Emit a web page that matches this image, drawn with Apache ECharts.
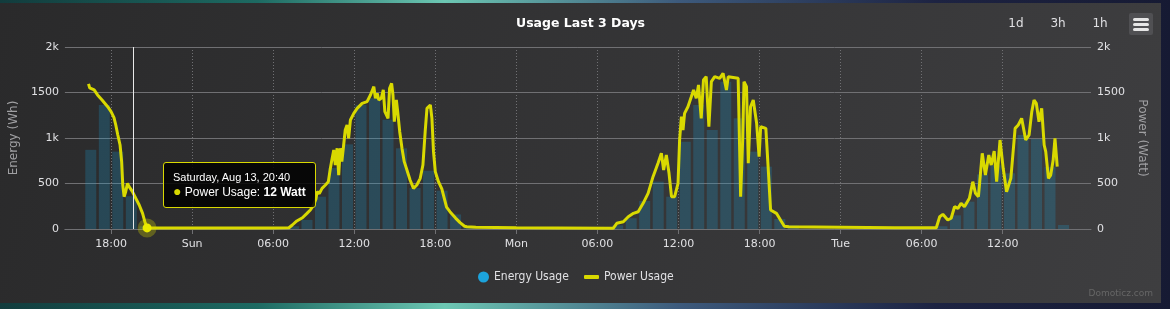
<!DOCTYPE html>
<html><head><meta charset="utf-8">
<script src="https://cdn.jsdelivr.net/npm/echarts@6/dist/echarts.min.js"></script>
<style>
html,body{margin:0;padding:0;width:1170px;height:309px;overflow:hidden;
background:linear-gradient(90deg,#123c3d 0%,#1d6a62 22%,#6cc7b3 38%,#3d5a7c 58%,#1d2342 80%,#161a33 100%);}
#chart{position:absolute;left:0;top:3px;width:1161px;height:300px;}
</style></head><body><div id="chart"></div>
<script>
// ---------------- data ----------------
const xMin = '2022-08-13 14:35';
const xMax = '2022-08-16 18:32';
const tickTimes = ['2022-08-13 18:00','2022-08-14 00:00','2022-08-14 06:00','2022-08-14 12:00','2022-08-14 18:00',
  '2022-08-15 00:00','2022-08-15 06:00','2022-08-15 12:00','2022-08-15 18:00','2022-08-16 00:00','2022-08-16 06:00','2022-08-16 12:00'];
const tickLabels = ['18:00','Sun','06:00','12:00','18:00','Mon','06:00','12:00','18:00','Tue','06:00','12:00'];
const yTickLabels = ['0','500','1k','1500','2k'];

const energyTimes = [
  '2022-08-13 16:30','2022-08-13 17:30','2022-08-13 18:30','2022-08-13 19:30','2022-08-13 20:30',
  '2022-08-14 07:30','2022-08-14 08:30','2022-08-14 09:30','2022-08-14 10:30','2022-08-14 11:30','2022-08-14 12:30','2022-08-14 13:30',
  '2022-08-14 14:30','2022-08-14 15:30','2022-08-14 16:30','2022-08-14 17:30','2022-08-14 18:30','2022-08-14 19:30','2022-08-14 20:30',
  '2022-08-15 07:30','2022-08-15 08:30','2022-08-15 09:30','2022-08-15 10:30','2022-08-15 11:30','2022-08-15 12:30','2022-08-15 13:30',
  '2022-08-15 14:30','2022-08-15 15:30','2022-08-15 16:30','2022-08-15 17:30','2022-08-15 18:30','2022-08-15 19:30','2022-08-15 20:30',
  '2022-08-16 07:30','2022-08-16 08:30','2022-08-16 09:30','2022-08-16 10:30','2022-08-16 11:30','2022-08-16 12:30','2022-08-16 13:30',
  '2022-08-16 14:30','2022-08-16 15:30','2022-08-16 16:30'];
const energyValues = [
  870,1363,850,360,30,
  30,100,355,670,930,1363,1436,
  1200,887,450,640,421,160,20,
  40,118,308,520,355,960,1363,
  1088,1619,1216,850,685,110,40,
  30,150,300,600,700,612,1033,
  990,680,44];

const powerTimes = [
  // Sat 13
  '2022-08-13 16:20','2022-08-13 16:25','2022-08-13 16:30','2022-08-13 16:45','2022-08-13 17:00','2022-08-13 17:20','2022-08-13 17:45',
  '2022-08-13 18:00','2022-08-13 18:13','2022-08-13 18:21','2022-08-13 18:30','2022-08-13 18:40','2022-08-13 18:47','2022-08-13 18:52',
  '2022-08-13 18:58','2022-08-13 19:05','2022-08-13 19:13','2022-08-13 19:20','2022-08-13 19:35','2022-08-13 19:50','2022-08-13 20:05',
  '2022-08-13 20:20','2022-08-13 20:30','2022-08-13 20:40','2022-08-13 21:00','2022-08-13 22:00','2022-08-13 23:00',
  // Sun 14
  '2022-08-14 00:00','2022-08-14 03:00','2022-08-14 06:00','2022-08-14 07:10','2022-08-14 07:25','2022-08-14 07:45','2022-08-14 08:10',
  '2022-08-14 08:30','2022-08-14 08:45','2022-08-14 09:00','2022-08-14 09:10','2022-08-14 09:15','2022-08-14 09:25','2022-08-14 09:37',
  '2022-08-14 09:52','2022-08-14 10:05','2022-08-14 10:14','2022-08-14 10:22','2022-08-14 10:29','2022-08-14 10:36','2022-08-14 10:44',
  '2022-08-14 10:51','2022-08-14 10:58','2022-08-14 11:05','2022-08-14 11:13','2022-08-14 11:20','2022-08-14 11:28','2022-08-14 11:35',
  '2022-08-14 11:43','2022-08-14 11:58','2022-08-14 12:13','2022-08-14 12:35','2022-08-14 12:57','2022-08-14 13:12','2022-08-14 13:27',
  '2022-08-14 13:34','2022-08-14 13:42','2022-08-14 13:49','2022-08-14 14:00','2022-08-14 14:09','2022-08-14 14:16','2022-08-14 14:30',
  '2022-08-14 14:37','2022-08-14 14:46','2022-08-14 14:52','2022-08-14 14:58','2022-08-14 15:07','2022-08-14 15:13','2022-08-14 15:22',
  '2022-08-14 15:32','2022-08-14 15:42','2022-08-14 15:54','2022-08-14 16:08','2022-08-14 16:23','2022-08-14 16:38','2022-08-14 16:53',
  '2022-08-14 17:05','2022-08-14 17:15','2022-08-14 17:23','2022-08-14 17:38','2022-08-14 17:45','2022-08-14 17:52','2022-08-14 18:00',
  '2022-08-14 18:14','2022-08-14 18:29','2022-08-14 18:50','2022-08-14 19:05','2022-08-14 19:30','2022-08-14 19:50','2022-08-14 20:10',
  '2022-08-14 20:20','2022-08-14 21:00',
  // Mon 15
  '2022-08-15 00:00','2022-08-15 03:00','2022-08-15 07:10','2022-08-15 07:26','2022-08-15 07:55','2022-08-15 08:17','2022-08-15 08:40',
  '2022-08-15 09:01','2022-08-15 09:23','2022-08-15 09:45','2022-08-15 10:07','2022-08-15 10:29','2022-08-15 10:44','2022-08-15 10:54',
  '2022-08-15 11:06','2022-08-15 11:18','2022-08-15 11:29','2022-08-15 11:43','2022-08-15 11:58','2022-08-15 12:05','2022-08-15 12:13',
  '2022-08-15 12:20','2022-08-15 12:27','2022-08-15 12:42','2022-08-15 12:57','2022-08-15 13:07','2022-08-15 13:19','2022-08-15 13:29',
  '2022-08-15 13:41','2022-08-15 13:51','2022-08-15 14:03','2022-08-15 14:15','2022-08-15 14:26','2022-08-15 14:41','2022-08-15 15:03',
  '2022-08-15 15:18','2022-08-15 15:33','2022-08-15 15:41','2022-08-15 16:25','2022-08-15 16:36','2022-08-15 16:45','2022-08-15 16:51',
  '2022-08-15 17:02','2022-08-15 17:10','2022-08-15 17:20','2022-08-15 17:32','2022-08-15 17:47','2022-08-15 17:58','2022-08-15 18:05',
  '2022-08-15 18:28','2022-08-15 18:38','2022-08-15 18:49','2022-08-15 19:15','2022-08-15 19:35','2022-08-15 19:50','2022-08-15 20:10',
  // Tue 16
  '2022-08-16 00:00','2022-08-16 04:00','2022-08-16 07:05','2022-08-16 07:20','2022-08-16 07:34','2022-08-16 07:56','2022-08-16 08:11',
  '2022-08-16 08:26','2022-08-16 08:41','2022-08-16 08:55','2022-08-16 09:10','2022-08-16 09:32','2022-08-16 09:47','2022-08-16 09:59',
  '2022-08-16 10:12','2022-08-16 10:29','2022-08-16 10:43','2022-08-16 10:58','2022-08-16 11:09','2022-08-16 11:22','2022-08-16 11:33',
  '2022-08-16 11:48','2022-08-16 12:02','2022-08-16 12:17','2022-08-16 12:36','2022-08-16 12:55','2022-08-16 13:09','2022-08-16 13:24',
  '2022-08-16 13:42','2022-08-16 13:57','2022-08-16 14:09','2022-08-16 14:19','2022-08-16 14:29','2022-08-16 14:41','2022-08-16 14:53',
  '2022-08-16 15:04','2022-08-16 15:11','2022-08-16 15:23','2022-08-16 15:33','2022-08-16 15:44','2022-08-16 15:52','2022-08-16 16:02'];
const powerValues = [
  // Sat 13
  1594,1550,1560,1528,1473,1418,1344,
  1289,1223,1143,1033,923,740,484,
  355,410,502,465,410,337,264,
  172,80,12,12,12,12,
  // Sun 14
  12,12,12,14,44,88,124,
  172,209,264,330,410,390,447,
  484,520,667,777,868,703,887,
  593,887,740,923,1088,1143,997,
  1198,1271,1326,1381,1399,1473,1564,
  1436,1491,1418,1436,1528,1289,1216,
  1546,1601,1473,1179,1418,1289,1069,
  887,740,648,538,447,484,557,
  703,1069,1326,1363,1216,850,630,
  520,440,240,190,120,70,30,
  25,20,
  // Mon 15
  15,12,8,63,80,135,172,
  190,282,392,575,722,832,648,
  813,612,355,355,502,978,1234,
  1088,1271,1344,1454,1528,1436,1583,
  1216,1638,1674,1124,1619,1674,1656,
  1711,1528,1674,1656,355,978,1619,
  1564,722,1344,1418,1162,795,1124,
  1106,685,209,172,90,30,25,
  // Tue 16
  20,15,14,135,161,99,118,
  245,227,282,245,337,520,392,
  355,832,593,813,703,857,520,
  978,667,410,557,1106,1143,1216,
  978,1033,1289,1418,1381,1179,1326,
  923,850,557,593,758,997,685];

const hoverTime = '2022-08-13 20:40';
const crosshairTime = '2022-08-13 19:38';
const dayNames = ['Sunday','Monday','Tuesday','Wednesday','Thursday','Friday','Saturday'];
const monthNames = ['Jan','Feb','Mar','Apr','May','Jun','Jul','Aug','Sep','Oct','Nov','Dec'];

// ---------------- helpers ----------------
function ts(s){ const [d,t]=s.split(' '); const [y,mo,da]=d.split('-').map(Number); const [h,mi]=t.split(':').map(Number);
  return new Date(y,mo-1,da,h,mi).getTime(); }
function pad(n){ return (n<10?'0':'')+n; }

const FONT = '"DejaVu Sans", Verdana, sans-serif';
const TIP_FONT = "'Liberation Sans', Arial, sans-serif";
const LINE_COLOR = '#d9d900';
const BAR_COLOR = '#1ca3dc';
const GRID_COLOR = '#707073';
const tickTs = tickTimes.map(ts);
const hoverIndex = powerTimes.indexOf(hoverTime);

const energyData = energyTimes.map((t,i)=>[ts(t), energyValues[i]]);
const powerData = powerTimes.map((t,i)=> i===hoverIndex
  ? {value:[ts(t), powerValues[i]], symbol:'circle', symbolSize:9,
     itemStyle:{color:'#f2f200', borderColor:'rgba(217,217,0,0.3)', borderWidth:10}}
  : [ts(t), powerValues[i]]);

const chart = echarts.init(document.getElementById('chart'), null, {renderer:'canvas'});
chart.setOption({
  animation:false,
  backgroundColor: new echarts.graphic.LinearGradient(0,0,1,1,[{offset:0,color:'#2a2a2b'},{offset:1,color:'#3e3e40'}]),
  textStyle:{fontFamily:FONT},
  title:{text:'Usage Last 3 Days', left:'center', top:14, padding:0,
    textStyle:{color:'#ffffff', fontSize:12.5, fontWeight:'bold', fontFamily:FONT}},
  grid:{left:64, right:70, top:44, bottom:74},
  legend:[
    {data:[{name:'Energy Usage', icon:'circle', itemStyle:{color:BAR_COLOR, opacity:1}}],
     left:478, top:268, padding:0, itemWidth:11, itemHeight:11, selectedMode:false,
     textStyle:{color:'#e0e0e3', fontSize:12, fontFamily:'"DejaVu Sans Condensed", "DejaVu Sans", sans-serif'}},
    {data:[{name:'Power Usage', icon:'roundRect', itemStyle:{color:LINE_COLOR, borderWidth:0}}],
     left:584, top:268, padding:0, itemWidth:15, itemHeight:4, selectedMode:false,
     textStyle:{color:'#e0e0e3', fontSize:12, fontFamily:'"DejaVu Sans Condensed", "DejaVu Sans", sans-serif'}}
  ],
  tooltip:{trigger:'item', triggerOn:'none', alwaysShowContent:true, transitionDuration:0, showDelay:0,
    backgroundColor:'rgba(0,0,0,0.85)', borderColor:LINE_COLOR, borderWidth:1, padding:[7,9,6,9],
    extraCssText:'border-radius:3px;box-shadow:none;',
    position:function(pt){ return [pt[0]+16, pt[1]-66]; },
    formatter:function(p){
      const d = new Date(p.value[0]);
      const head = dayNames[d.getDay()]+', '+monthNames[d.getMonth()]+' '+d.getDate()+', '+pad(d.getHours())+':'+pad(d.getMinutes());
      return '<div style="font-family:'+TIP_FONT+';color:#fff">'
        +'<div style="font-size:11px;line-height:14px">'+head+'</div>'
        +'<div style="font-size:12px;line-height:17px"><span style="color:'+LINE_COLOR+';font-size:14px;line-height:12px">\u25CF</span> '
        +p.seriesName+': <b>'+p.value[1]+' Watt</b></div></div>';
    }},
  xAxis:{type:'value', min:ts(xMin), max:ts(xMax),
    axisLine:{show:true, lineStyle:{color:GRID_COLOR}},
    axisTick:{show:true, customValues:tickTs, length:5, lineStyle:{color:GRID_COLOR}},
    axisLabel:{customValues:tickTs, color:'#e0e0e3', fontSize:11, margin:10, fontFamily:FONT,
      formatter:function(v){ const i = tickTs.indexOf(v); return i>=0 ? tickLabels[i] : ''; }},
    splitLine:{show:true, lineStyle:{color:GRID_COLOR, type:[1,2], width:1}}
  },
  yAxis:[
    {type:'value', min:0, max:2000, interval:500, name:'Energy (Wh)', nameLocation:'middle', nameGap:42,
     nameTextStyle:{color:'#a0a0a3', fontSize:12, fontFamily:FONT},
     axisLabel:{color:'#e0e0e3', fontSize:11, margin:6, padding:[4,0,0,0], fontFamily:FONT, formatter:function(v){ return yTickLabels[v/500]; }},
     axisLine:{show:false}, axisTick:{show:false}, splitLine:{show:true, lineStyle:{color:GRID_COLOR}}},
    {type:'value', position:'right', min:0, max:2000, interval:500, name:'Power (Watt)', nameLocation:'middle', nameRotate:-90, nameGap:44,
     nameTextStyle:{color:'#a0a0a3', fontSize:12, fontFamily:FONT},
     axisLabel:{color:'#e0e0e3', fontSize:11, margin:6, padding:[4,0,0,0], fontFamily:FONT, formatter:function(v){ return yTickLabels[v/500]; }},
     axisLine:{show:false}, axisTick:{show:false}, splitLine:{show:false}}
  ],
  series:[
    {name:'Energy Usage', type:'bar', yAxisIndex:0, data:energyData, barWidth:11, z:1,
     itemStyle:{color:BAR_COLOR, opacity:0.23},
     markLine:{silent:true, symbol:'none', label:{show:false}, animation:false,
       lineStyle:{color:'#e8e8e8', width:1, type:'solid'}, emphasis:{disabled:true},
       data:[{xAxis:ts(crosshairTime)}]}},
    {name:'Power Usage', type:'line', yAxisIndex:1, data:powerData, symbol:'none', showSymbol:true, z:3,
     lineStyle:{color:LINE_COLOR, width:3}, itemStyle:{color:LINE_COLOR}, emphasis:{disabled:true}}
  ],
  graphic:[
    {type:'text', x:1016, y:21, style:{text:'1d', align:'center', verticalAlign:'middle', fill:'#e0e0e3', font:'12px '+FONT}},
    {type:'text', x:1058, y:21, style:{text:'3h', align:'center', verticalAlign:'middle', fill:'#e0e0e3', font:'12px '+FONT}},
    {type:'text', x:1100, y:21, style:{text:'1h', align:'center', verticalAlign:'middle', fill:'#e0e0e3', font:'12px '+FONT}},
    {type:'rect', shape:{x:1129, y:10, width:24, height:22, r:2}, style:{fill:'#505053'}},
    {type:'rect', shape:{x:1133, y:15, width:16, height:3, r:1.5}, style:{fill:'#e6e6e6'}},
    {type:'rect', shape:{x:1133, y:20, width:16, height:3, r:1.5}, style:{fill:'#e6e6e6'}},
    {type:'rect', shape:{x:1133, y:25, width:16, height:3, r:1.5}, style:{fill:'#e6e6e6'}},
    {type:'text', right:8, top:286, style:{text:'Domoticz.com', fill:'#666666', font:'9px '+FONT}}
  ]
});
chart.dispatchAction({type:'showTip', seriesIndex:1, dataIndex:hoverIndex});
</script></body></html>
